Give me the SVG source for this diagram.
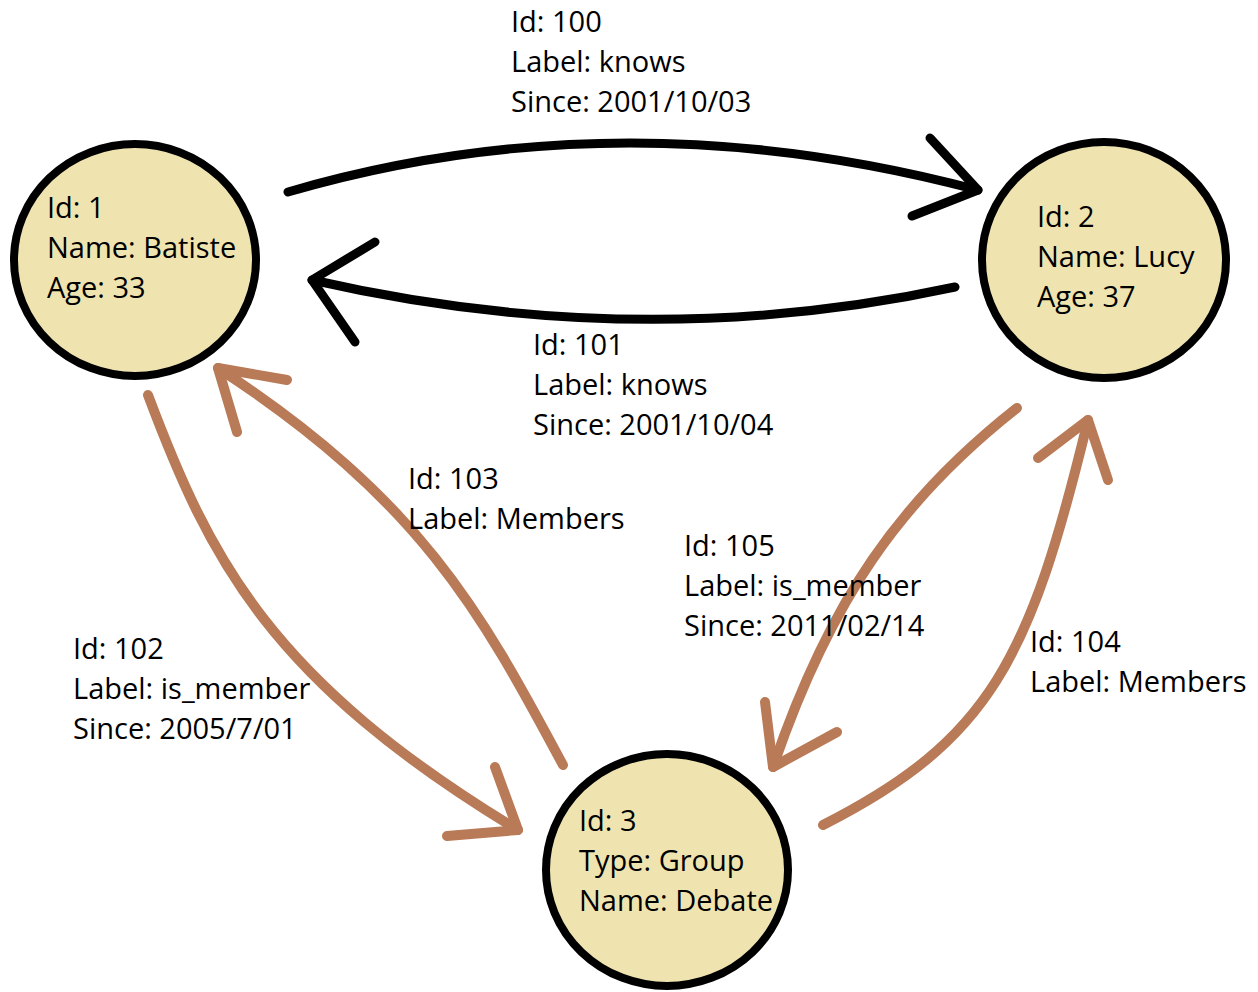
<svg xmlns="http://www.w3.org/2000/svg" width="1258" height="992" viewBox="0 0 1258 992">
  <style>
    .node { fill: #EFE4B0; stroke: #000; stroke-width: 8; }
    .txt { font-family: "Open Sans", "Noto Sans", sans-serif; font-size: 29px; fill: #000; }
    .knows { fill: none; stroke: #000; stroke-width: 9; stroke-linecap: round; stroke-linejoin: round; }
    .member { fill: none; stroke: #B97A57; stroke-width: 10; stroke-linecap: round; stroke-linejoin: round; }
  </style>
  <rect width="1258" height="992" fill="#fff"/>

  <!-- edges -->
  <g id="connectors">
    <!-- 100: Batiste knows Lucy -->
    <path class="knows" d="M288 192 Q 620 95 978 190"/>
    <polyline class="knows" points="930,138 978,190 912,216"/>
    <!-- 101: Lucy knows Batiste -->
    <path class="knows" d="M955 287 Q 640 355 312 280"/>
    <polyline class="knows" points="375,242 312,280 355,342"/>
    <!-- 102: Batiste is_member Debate -->
    <path class="member" d="M148 395 C 210 560 270 680 518 830"/>
    <polyline class="member" points="495,767 518,830 447,836"/>
    <!-- 103: Debate Members Batiste -->
    <path class="member" d="M563 765 C 480 610 420 500 218 368"/>
    <polyline class="member" points="287,380 218,368 237,432"/>
    <!-- 105: Lucy is_member Debate -->
    <path class="member" d="M1017 408 C 900 500 830 600 773 767"/>
    <polyline class="member" points="765,702 773,767 837,732"/>
    <!-- 104: Debate Members Lucy -->
    <path class="member" d="M823 825 C 990 740 1030 660 1088 420"/>
    <polyline class="member" points="1038,458 1088,420 1108,480"/>
  </g>

  <g id="node-1">
    <ellipse class="node" cx="135" cy="260" rx="121" ry="116"/>
    <text class="txt" x="47" y="218">Id: 1</text>
    <text class="txt" x="47" y="258">Name: Batiste</text>
    <text class="txt" x="47" y="298">Age: 33</text>
  </g>

  <g id="node-2">
    <ellipse class="node" cx="1104" cy="260" rx="122" ry="118"/>
    <text class="txt" x="1037" y="227">Id: 2</text>
    <text class="txt" x="1037" y="267">Name: Lucy</text>
    <text class="txt" x="1037" y="307">Age: 37</text>
  </g>

  <g id="node-3">
    <ellipse class="node" cx="667" cy="870" rx="121" ry="116"/>
    <text class="txt" x="579" y="831">Id: 3</text>
    <text class="txt" x="579" y="871">Type: Group</text>
    <text class="txt" x="579" y="911">Name: Debate</text>
  </g>

  <!-- edge labels -->
  <g id="label-100">
    <text class="txt" x="511" y="32">Id: 100</text>
    <text class="txt" x="511" y="72">Label: knows</text>
    <text class="txt" x="511" y="112">Since: 2001/10/03</text>
  </g>
  <g id="label-101">
    <text class="txt" x="533" y="355">Id: 101</text>
    <text class="txt" x="533" y="395">Label: knows</text>
    <text class="txt" x="533" y="435">Since: 2001/10/04</text>
  </g>
  <g id="label-102">
    <text class="txt" x="73" y="659">Id: 102</text>
    <text class="txt" x="73" y="699">Label: is_member</text>
    <text class="txt" x="73" y="739">Since: 2005/7/01</text>
  </g>
  <g id="label-103">
    <text class="txt" x="408" y="489">Id: 103</text>
    <text class="txt" x="408" y="529">Label: Members</text>
  </g>
  <g id="label-104">
    <text class="txt" x="1030" y="652">Id: 104</text>
    <text class="txt" x="1030" y="692">Label: Members</text>
  </g>
  <g id="label-105">
    <text class="txt" x="684" y="556">Id: 105</text>
    <text class="txt" x="684" y="596">Label: is_member</text>
    <text class="txt" x="684" y="636">Since: 2011/02/14</text>
  </g>
</svg>
